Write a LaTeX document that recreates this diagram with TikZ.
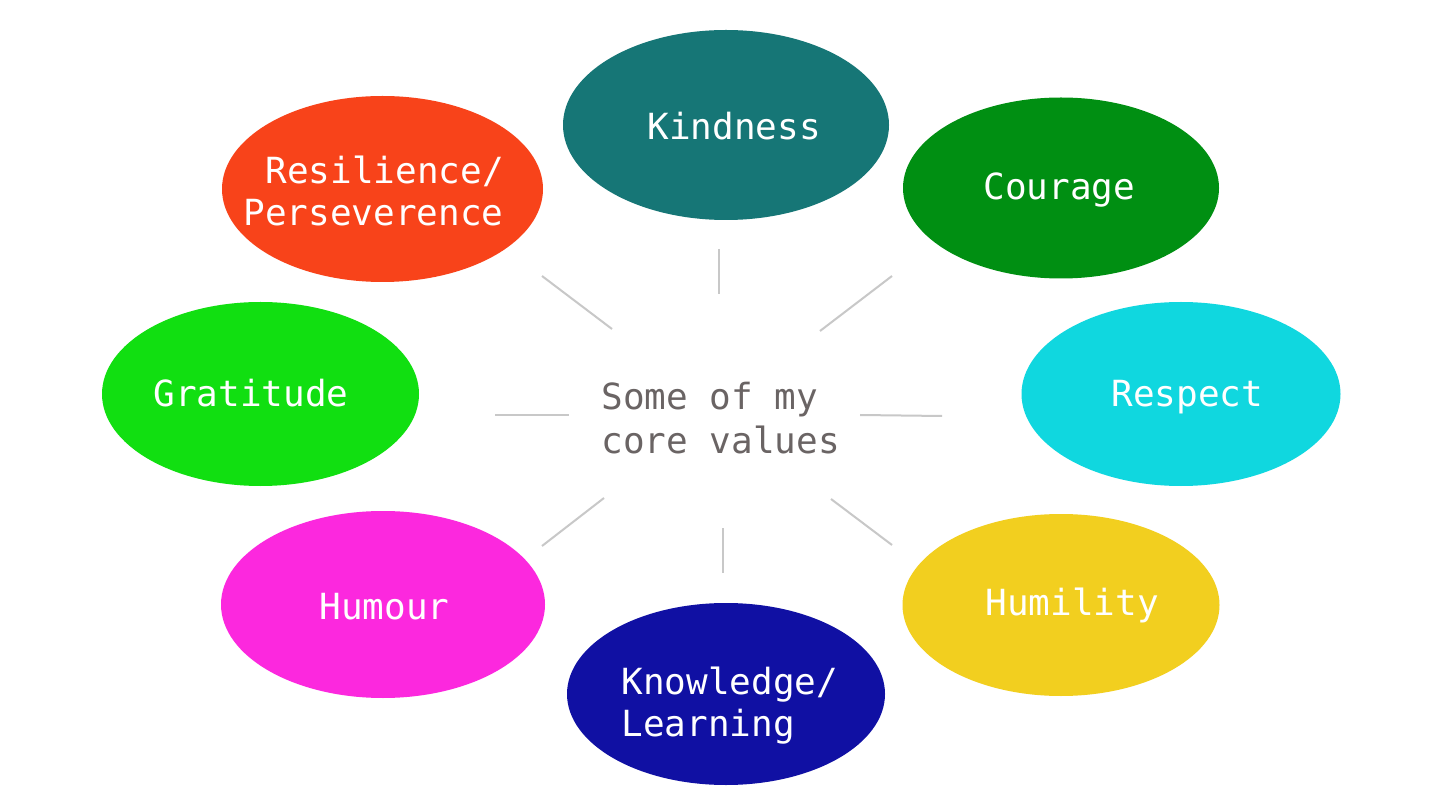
\documentclass[tikz,border=0pt]{standalone}
\usepackage{fontspec}
\setmonofont{DejaVu Sans Mono}
\usetikzlibrary{shapes.geometric}
\definecolor{ckind}{HTML}{167676}
\definecolor{ccour}{HTML}{008F12}
\definecolor{cresp}{HTML}{10D7DF}
\definecolor{chumil}{HTML}{F2CF1F}
\definecolor{cknow}{HTML}{1010A3}
\definecolor{chumour}{HTML}{FC28DE}
\definecolor{cgrat}{HTML}{11DF11}
\definecolor{cresil}{HTML}{F8431A}
\definecolor{cline}{HTML}{C8C8C8}
\definecolor{ctext}{HTML}{6A6464}
\begin{document}
\begin{tikzpicture}[x=0.5pt,y=-0.5pt,
  valshape/.style={ellipse, draw=none, inner sep=0pt},
  valtext/.style={anchor=base west, inner sep=0pt, text=white, font=\ttfamily\fontsize{18pt}{20.5pt}\selectfont},
  centertext/.style={anchor=base west, inner sep=0pt, text=ctext, font=\ttfamily\fontsize{18pt}{20.5pt}\selectfont},
  spoke/.style={draw=cline, line width=1pt}]
\useasboundingbox[fill=white] (0,0) rectangle (1440,812);
% ellipses
\node[valshape, fill=ckind, minimum width=163pt, minimum height=95pt] (kind) at (726,125) {};
\node[valshape, fill=ccour, minimum width=158pt, minimum height=90.5pt] (cour) at (1061,188) {};
\node[valshape, fill=cresp, minimum width=159.5pt, minimum height=92pt] (resp) at (1181,394) {};
\node[valshape, fill=chumil, minimum width=158.5pt, minimum height=91pt] (humil) at (1061,605) {};
\node[valshape, fill=cknow, minimum width=159pt, minimum height=91pt] (know) at (726,694) {};
\node[valshape, fill=chumour, minimum width=162pt, minimum height=93.5pt] (humour) at (383,604.5) {};
\node[valshape, fill=cgrat, minimum width=158.5pt, minimum height=92pt] (grat) at (260.5,394) {};
\node[valshape, fill=cresil, minimum width=160.5pt, minimum height=93pt] (resil) at (382.5,189) {};
% labels
\node[valtext] (tkind) at (647,140) {Kindness};
\node[valtext] (tcour) at (983,200) {Courage};
\node[valtext] (tresp) at (1111,407) {Respect};
\node[valtext] (thumil) at (985,615) {Humility};
\node[valtext] (tknow1) at (621,694) {Knowledge/};
\node[valtext] (tknow2) at (621,736) {Learning};
\node[valtext] (thumour) at (319,619) {Humour};
\node[valtext] (tgrat) at (153,407) {Gratitude};
\node[valtext] (tresil1) at (265,184) {Resilience/};
\node[valtext] (tresil2) at (243,226) {Perseverence};
\node[centertext] (c1) at (601,410) {Some of my};
\node[centertext] (c2) at (601,453) {core values};
% spokes
\coordinate (s1a) at (719,249); \coordinate (s1b) at (719,294);
\coordinate (s2a) at (542,276); \coordinate (s2b) at (612,329);
\coordinate (s3a) at (892,276); \coordinate (s3b) at (820,331);
\coordinate (s4a) at (495,415); \coordinate (s4b) at (569,415);
\coordinate (s5a) at (860,415); \coordinate (s5b) at (942,416);
\coordinate (s6a) at (604,498); \coordinate (s6b) at (542,546);
\coordinate (s7a) at (723,528); \coordinate (s7b) at (723,573);
\coordinate (s8a) at (831,499); \coordinate (s8b) at (892,545);
\foreach \s in {1,...,8} \draw[spoke] (s\s a) -- (s\s b);
\end{tikzpicture}
\end{document}
